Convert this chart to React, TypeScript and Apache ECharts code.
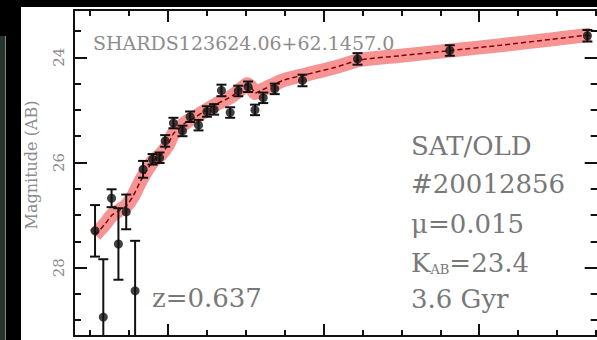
import React, { useEffect, useRef } from "react";
import * as echarts from "echarts";

// Photometric points: observed wavelength (micron), AB magnitude, 1-sigma error
const wavelengths = [
  0.535, 0.588, 0.641, 0.685, 0.735, 0.792, 0.843, 0.904, 0.949, 0.985, 1.038,
  1.096, 1.145, 1.199, 1.253, 1.299, 1.346, 1.402, 1.454, 1.517, 1.561, 1.614,
  1.688, 1.866, 2.219, 2.811, 3.694,
];
const magnitudes = [
  27.3, 28.94, 26.68, 27.55, 26.94, 28.44, 26.13, 25.94, 25.91, 25.59, 25.25,
  25.4, 25.13, 25.29, 25.03, 24.99, 24.63, 25.05, 24.64, 24.56, 25.0, 24.77,
  24.6, 24.44, 24.03, 23.87, 23.59,
];
const magErrors = [
  0.49, 1.1, 0.17, 0.68, 0.33, 0.95, 0.16, 0.1, 0.1, 0.11, 0.1, 0.1, 0.1, 0.1,
  0.1, 0.1, 0.11, 0.1, 0.1, 0.1, 0.1, 0.1, 0.1, 0.11, 0.11, 0.1, 0.11,
];

// Best-fitting stellar population model
const modelWavelengths = [
  0.535, 0.599, 0.644, 0.696, 0.734, 0.779, 0.824, 0.869, 0.908, 0.953, 0.998,
  1.036, 1.081, 1.132, 1.177, 1.229, 1.274, 1.325, 1.37, 1.421, 1.473, 1.511,
  1.537, 1.563, 1.608, 1.672, 1.749, 1.871, 2.064, 2.237, 2.494, 2.816, 3.137,
  3.458, 3.715,
];
const modelMagnitudes = [
  27.38, 27.17, 27.0, 26.9, 26.83, 26.64, 26.37, 26.14, 25.97, 25.86, 25.69,
  25.46, 25.33, 25.21, 25.14, 25.04, 24.96, 24.87, 24.81, 24.72, 24.6, 24.51,
  24.57, 24.68, 24.62, 24.53, 24.43, 24.34, 24.2, 24.05, 23.97, 23.87, 23.77,
  23.66, 23.57,
];

// Axis ticks
const xMajorTicks = [1, 2, 3];
const xMinorTicks = [0.5, 0.75, 1.25, 1.5, 1.75, 2.25, 2.5, 2.75, 3.25, 3.5, 3.75];
const yMajorTicks = [24, 26, 28];
const yMinorTicks = [23.5, 24.5, 25, 25.5, 26.5, 27, 27.5, 28.5, 29];

const galaxyId = "SHARDS123624.06+62.1457.0";
const redshiftLabel = "z=0.637";
const infoLines = ["SAT/OLD", "#20012856", "\u03bc=0.015"];
const kMagLabel = { main: "K", sub: "AB", value: "=23.4" };
const ageLabel = "3.6 Gyr";
const yTitle = "Magnitude (AB)";

const X_MIN = 0.4;
const X_MAX = 3.76;
const Y_MIN = 23.1;
const Y_MAX = 29.3;

const INK = "#111";
const SERIF = "DejaVu Serif";
const TEXT_GREY = "#787878";
const LIGHT_GREY = "#8c8c8c";

const frameLine = { show: true, lineStyle: { color: INK, width: 2 } };

function xAxisDef(position: string, ticks: number[], len: number) {
  return {
    type: "value",
    position,
    min: X_MIN,
    max: X_MAX,
    axisLine: frameLine,
    axisTick: { show: true, inside: true, length: len, customValues: ticks, lineStyle: { color: INK, width: 2 } },
    axisLabel: { show: false },
    splitLine: { show: false },
  };
}

function yAxisDef(position: string, ticks: number[], len: number, labels: boolean) {
  return {
    type: "value",
    position,
    inverse: true,
    min: Y_MIN,
    max: Y_MAX,
    axisLine: frameLine,
    axisTick: { show: true, inside: true, length: len, customValues: ticks, lineStyle: { color: INK, width: 2 } },
    axisLabel: labels
      ? {
          show: true,
          customValues: ticks,
          rotate: 90,
          margin: 8,
          color: LIGHT_GREY,
          fontFamily: SERIF,
          fontSize: 15,
        }
      : { show: false },
    splitLine: { show: false },
  };
}

export default function App() {
  const ref = useRef<HTMLDivElement>(null);

  useEffect(() => {
    if (!ref.current) return;
    const chart = echarts.init(ref.current, null, { renderer: "svg" });

    const points = wavelengths.map((w, i) => [w, magnitudes[i], magErrors[i]]);
    const model = modelWavelengths.map((w, i) => [w, modelMagnitudes[i]]);

    const annotStyle = { fill: TEXT_GREY, font: `26px "${SERIF}"`, verticalAlign: "middle" };

    const option: any = {
      animation: false,
      backgroundColor: "transparent",
      grid: { left: 74, top: 10, right: 2.3, bottom: 4, containLabel: false },
      xAxis: [
        xAxisDef("bottom", xMinorTicks, 6),
        xAxisDef("bottom", xMajorTicks, 12),
        xAxisDef("top", xMinorTicks, 6),
        xAxisDef("top", xMajorTicks, 12),
      ],
      yAxis: [
        yAxisDef("left", yMinorTicks, 7, false),
        yAxisDef("left", yMajorTicks, 13, true),
        yAxisDef("right", yMinorTicks, 7, false),
        yAxisDef("right", yMajorTicks, 13, false),
      ],
      series: [
        {
          type: "line",
          data: model,
          symbol: "none",
          smooth: 0.25,
          lineStyle: { color: "rgba(240,70,70,0.58)", width: 14, cap: "butt" },
          z: 1,
        },
        {
          type: "line",
          data: model,
          symbol: "none",
          smooth: 0.25,
          lineStyle: { color: "#8b0000", width: 1.5, type: [5, 3] },
          z: 2,
        },
        {
          type: "custom",
          data: points,
          encode: { x: 0, y: 1 },
          clip: true,
          z: 3,
          renderItem: (_params: any, api: any) => {
            const x = api.value(0);
            const y = api.value(1);
            const e = api.value(2);
            const lo = Math.max(y - e, Y_MIN);
            const hi = Math.min(y + e, Y_MAX);
            const top = api.coord([x, lo]);
            const bot = api.coord([x, hi]);
            const hw = 5;
            const style = { stroke: INK, lineWidth: 2 };
            const children: any[] = [
              { type: "line", shape: { x1: top[0], y1: top[1], x2: bot[0], y2: bot[1] }, style },
            ];
            if (y - e >= Y_MIN)
              children.push({ type: "line", shape: { x1: top[0] - hw, y1: top[1], x2: top[0] + hw, y2: top[1] }, style });
            if (y + e <= Y_MAX)
              children.push({ type: "line", shape: { x1: bot[0] - hw, y1: bot[1], x2: bot[0] + hw, y2: bot[1] }, style });
            return { type: "group", children };
          },
        },
        {
          type: "scatter",
          data: points.map((p) => [p[0], p[1]]),
          symbol: "circle",
          symbolSize: 9,
          itemStyle: { color: INK },
          z: 4,
        },
      ],
      graphic: [
        {
          type: "text",
          x: 93,
          y: 43,
          style: { text: galaxyId, fill: LIGHT_GREY, font: `19px "${SERIF}"`, verticalAlign: "middle" },
        },
        {
          type: "text",
          x: 152,
          y: 298,
          style: { text: redshiftLabel, ...annotStyle },
        },
        ...infoLines.map((t, i) => ({
          type: "text",
          x: 411,
          y: [146, 184, 224][i],
          style: { text: t, ...annotStyle },
        })),
        {
          type: "text",
          x: 411,
          y: 263,
          style: {
            text: `{k|${kMagLabel.main}}{s|${kMagLabel.sub}}{k|${kMagLabel.value}}`,
            verticalAlign: "middle",
            rich: {
              k: { fill: TEXT_GREY, fontFamily: SERIF, fontSize: 26 },
              s: { fill: TEXT_GREY, fontFamily: SERIF, fontSize: 13, verticalAlign: "bottom", padding: [10, 0, 0, 0] },
            },
          },
        },
        {
          type: "text",
          x: 411,
          y: 299,
          style: { text: ageLabel, ...annotStyle },
        },
        {
          type: "text",
          x: 31,
          y: 165,
          rotation: Math.PI / 2,
          style: {
            text: yTitle,
            fill: LIGHT_GREY,
            font: `16px "${SERIF}"`,
            align: "center",
            verticalAlign: "middle",
          },
        },
      ],
    };

    chart.setOption(option);
    return () => chart.dispose();
  }, []);

  return (
    <div
      style={{
        position: "fixed",
        left: 0,
        top: 0,
        width: 597,
        height: 340,
        background: "#000",
        overflow: "hidden",
      }}
    >
      <div
        style={{
          position: "absolute",
          left: 0,
          top: 36,
          width: 5,
          height: 304,
          background: "#25352d",
          borderRight: "1px solid #7b8a80",
        }}
      />
      <div
        style={{
          position: "absolute",
          left: 21,
          top: 7,
          width: 576,
          height: 333,
          background: "#fff",
        }}
      />
      <div ref={ref} style={{ position: "absolute", left: 0, top: 0, width: 600, height: 340 }} />
    </div>
  );
}
